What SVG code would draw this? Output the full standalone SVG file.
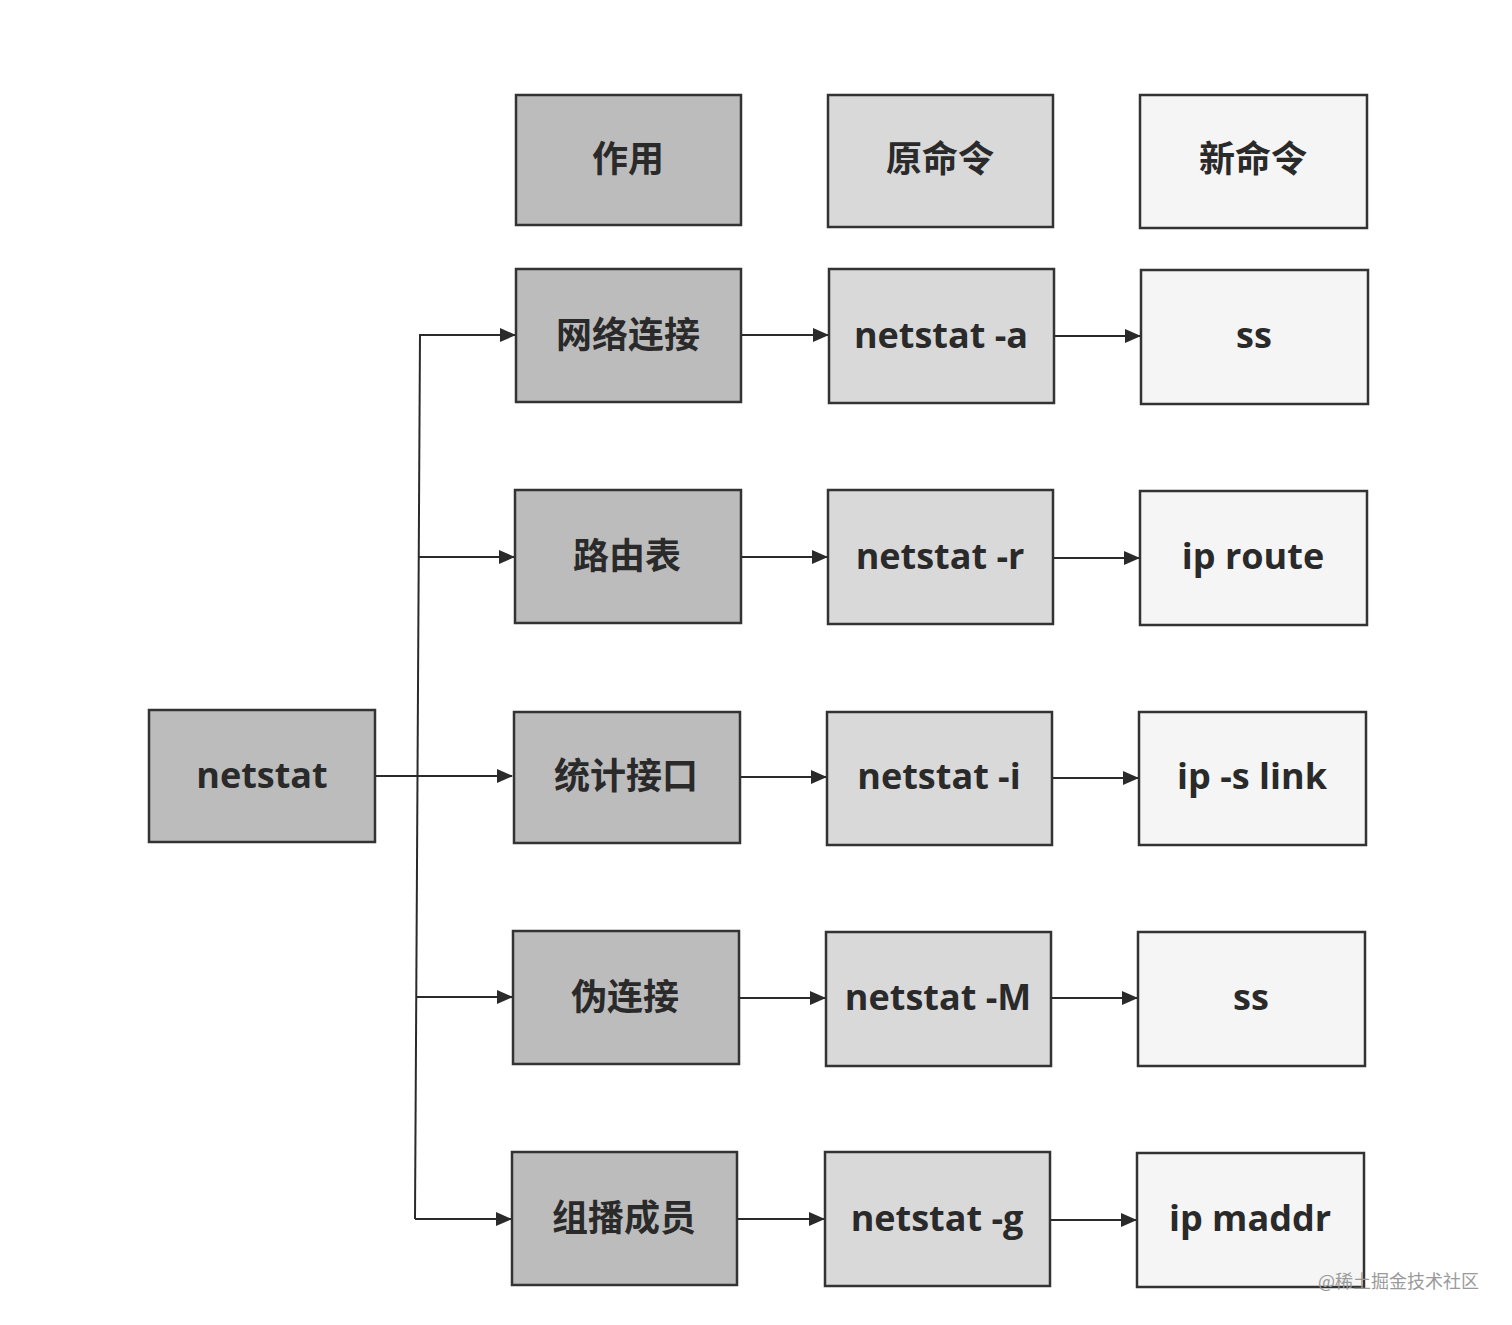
<svg xmlns="http://www.w3.org/2000/svg" width="1512" height="1325" viewBox="0 0 1512 1325">
<style>
.c1{fill:#bcbcbc;stroke:#333;stroke-width:2.5}
.c2{fill:#d9d9d9;stroke:#333;stroke-width:2.5}
.c3{fill:#f5f5f5;stroke:#333;stroke-width:2.5}
.t{font-family:"Open Sans","Noto Sans CJK SC",sans-serif;font-weight:bold;font-size:36px;fill:#2a2a2a;text-anchor:middle;dominant-baseline:central}
.ln{stroke:#2a2a2a;stroke-width:2;fill:none}
</style>
<defs>
<marker id="ah" markerWidth="16" markerHeight="14" refX="15" refY="7" orient="auto" markerUnits="userSpaceOnUse">
<path d="M0,0 L16,7 L0,14 Z" fill="#2a2a2a"/>
</marker>
</defs>
<rect width="1512" height="1325" fill="#fff"/>
<g id="connectors">
<path class="ln" d="M420,334 L415,1219"/>
<path class="ln" d="M375,776 L512,776" marker-end="url(#ah)" stroke-width="3"/>
<path class="ln" d="M420,335 L515,335" marker-end="url(#ah)"/>
<path class="ln" d="M419,557 L514,557" marker-end="url(#ah)"/>
<path class="ln" d="M417,997 L512,997" marker-end="url(#ah)"/>
<path class="ln" d="M415,1219 L511,1219" marker-end="url(#ah)"/>
<path class="ln" d="M741,335 L828,335" marker-end="url(#ah)"/>
<path class="ln" d="M741,557 L827,557" marker-end="url(#ah)"/>
<path class="ln" d="M740,777 L826,777" marker-end="url(#ah)"/>
<path class="ln" d="M739,998 L825,998" marker-end="url(#ah)"/>
<path class="ln" d="M737,1219 L824,1219" marker-end="url(#ah)"/>
<path class="ln" d="M1054,336 L1140,336" marker-end="url(#ah)"/>
<path class="ln" d="M1053,558 L1139,558" marker-end="url(#ah)"/>
<path class="ln" d="M1052,778 L1138,778" marker-end="url(#ah)"/>
<path class="ln" d="M1051,998 L1137,998" marker-end="url(#ah)"/>
<path class="ln" d="M1050,1220 L1136,1220" marker-end="url(#ah)"/>
</g>
<g id="n-netstat"><rect class="c1" x="149" y="710" width="226" height="132"/><text class="t" x="262" y="774">netstat</text></g>
<g id="h1"><rect class="c1" x="516" y="95" width="225" height="130"/><text class="t" x="628" y="158">作用</text></g>
<g id="h2"><rect class="c2" x="828" y="95" width="225" height="132"/><text class="t" x="940" y="158">原命令</text></g>
<g id="h3"><rect class="c3" x="1140" y="95" width="227" height="133"/><text class="t" x="1253" y="158">新命令</text></g>
<g id="r1a"><rect class="c1" x="516" y="269" width="225" height="133"/><text class="t" x="628" y="334">网络连接</text></g>
<g id="r1b"><rect class="c2" x="829" y="269" width="225" height="134"/><text class="t" x="941" y="334">netstat -a</text></g>
<g id="r1c"><rect class="c3" x="1141" y="270" width="227" height="134"/><text class="t" x="1254" y="334">ss</text></g>
<g id="r2a"><rect class="c1" x="515" y="490" width="226" height="133"/><text class="t" x="627" y="555">路由表</text></g>
<g id="r2b"><rect class="c2" x="828" y="490" width="225" height="134"/><text class="t" x="940" y="555">netstat -r</text></g>
<g id="r2c"><rect class="c3" x="1140" y="491" width="227" height="134"/><text class="t" x="1253" y="555">ip route</text></g>
<g id="r3a"><rect class="c1" x="514" y="712" width="226" height="131"/><text class="t" x="626" y="775">统计接口</text></g>
<g id="r3b"><rect class="c2" x="827" y="712" width="225" height="133"/><text class="t" x="939" y="775">netstat -i</text></g>
<g id="r3c"><rect class="c3" x="1139" y="712" width="227" height="133"/><text class="t" x="1252" y="775">ip -s link</text></g>
<g id="r4a"><rect class="c1" x="513" y="931" width="226" height="133"/><text class="t" x="625" y="996">伪连接</text></g>
<g id="r4b"><rect class="c2" x="826" y="932" width="225" height="134"/><text class="t" x="938" y="996">netstat -M</text></g>
<g id="r4c"><rect class="c3" x="1138" y="932" width="227" height="134"/><text class="t" x="1251" y="996">ss</text></g>
<g id="r5a"><rect class="c1" x="512" y="1152" width="225" height="133"/><text class="t" x="624" y="1217">组播成员</text></g>
<g id="r5b"><rect class="c2" x="825" y="1152" width="225" height="134"/><text class="t" x="937" y="1217">netstat -g</text></g>
<g id="r5c"><rect class="c3" x="1137" y="1153" width="227" height="134"/><text class="t" x="1250" y="1217">ip maddr</text></g>
<text x="1318" y="1288" font-family="Noto Sans CJK SC, sans-serif" font-size="18" fill="#9a9a9a">@稀土掘金技术社区</text>
</svg>
